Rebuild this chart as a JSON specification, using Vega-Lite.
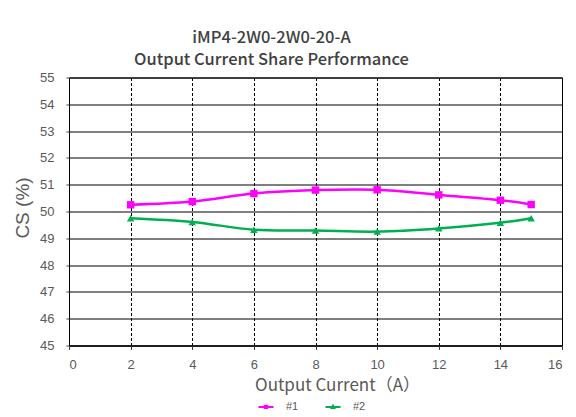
{
  "$schema": "https://vega.github.io/schema/vega-lite/v6.json",
  "width": 493,
  "height": 268,
  "autosize": {"type": "none"},
  "padding": {"left": 69, "top": 77.5, "right": 14, "bottom": 71},
  "background": "white",
  "title": {
    "text": ["iMP4-2W0-2W0-20-A", "Output Current Share Performance"],
    "font": "Noto Sans CJK JP",
    "fontSize": 16.5,
    "fontWeight": 500,
    "color": "#404040",
    "lineHeight": 22,
    "anchor": "middle",
    "frame": "group",
    "dx": -44,
    "offset": 3
  },
  "data": {
    "values": [
      {"current": 2, "cs": 50.25, "series": "#1"},
      {"current": 4, "cs": 50.37, "series": "#1"},
      {"current": 6, "cs": 50.67, "series": "#1"},
      {"current": 8, "cs": 50.8, "series": "#1"},
      {"current": 10, "cs": 50.81, "series": "#1"},
      {"current": 12, "cs": 50.62, "series": "#1"},
      {"current": 14, "cs": 50.42, "series": "#1"},
      {"current": 15, "cs": 50.26, "series": "#1"},
      {"current": 2, "cs": 49.75, "series": "#2"},
      {"current": 4, "cs": 49.61, "series": "#2"},
      {"current": 6, "cs": 49.32, "series": "#2"},
      {"current": 8, "cs": 49.29, "series": "#2"},
      {"current": 10, "cs": 49.25, "series": "#2"},
      {"current": 12, "cs": 49.37, "series": "#2"},
      {"current": 14, "cs": 49.58, "series": "#2"},
      {"current": 15, "cs": 49.75, "series": "#2"}
    ]
  },
  "encoding": {
    "x": {
      "field": "current",
      "type": "quantitative",
      "scale": {"domain": [0, 16], "nice": false, "zero": false},
      "axis": {
        "title": "Output Current（A）",
        "titleX": 268,
        "values": [0, 2, 4, 6, 8, 10, 12, 14, 16],
        "grid": true,
        "gridColor": "#000000",
        "gridDash": [3, 2],
        "gridWidth": 1,
        "domainColor": "#000000",
        "tickColor": "#404040",
        "tickSize": 4,
        "labelFont": "Liberation Sans",
        "labelFontSize": 13,
        "labelColor": "#595959",
        "labelPadding": 9,
        "titleFont": "Noto Sans CJK JP",
        "titleFontSize": 17,
        "titleFontWeight": "normal",
        "titleColor": "#595959",
        "titlePadding": 6
      }
    },
    "y": {
      "field": "cs",
      "type": "quantitative",
      "scale": {"domain": [45, 55], "nice": false, "zero": false},
      "axis": {
        "title": "CS (%)",
        "values": [45, 46, 47, 48, 49, 50, 51, 52, 53, 54, 55],
        "grid": true,
        "gridColor": "#000000",
        "gridWidth": 1,
        "domain": false,
        "tickColor": "#404040",
        "tickSize": 3,
        "labelFont": "Liberation Sans",
        "labelFontSize": 13,
        "labelColor": "#595959",
        "labelPadding": 12,
        "titleFont": "Liberation Sans",
        "titleFontSize": 19,
        "titleFontWeight": "normal",
        "titleColor": "#595959",
        "titlePadding": 7,
        "titleY": 130
      }
    },
    "color": {
      "field": "series",
      "type": "nominal",
      "scale": {"domain": ["#1", "#2"], "range": ["#FF00FF", "#00B050"]},
      "legend": {
        "title": null,
        "orient": "none",
        "legendX": 181,
        "legendY": 313,
        "direction": "horizontal",
        "labelFont": "Liberation Sans",
        "labelFontSize": 11,
        "labelColor": "#595959",
        "symbolSize": 900,
        "symbolStrokeWidth": 2,
        "columnPadding": 18,
        "labelOffset": 4,
        "symbolType": "M-1,0H1",
        "encode": {
          "symbols": {
            "update": {
              "shape": {"signal": "datum.value == '#1' ? 'M-0.5,0H0.5M-0.08,-0.08H0.08V0.08H-0.08Z' : 'M-0.5,0H0.5M0,-0.09L0.08,0.06H-0.08Z'"},
              "fill": {"signal": "datum.value == '#1' ? '#FF00FF' : '#00B050'"},
              "stroke": {"signal": "datum.value == '#1' ? '#FF00FF' : '#00B050'"}
            }
          }
        }
      }
    }
  },
  "layer": [
    {
      "mark": {"type": "line", "interpolate": "cardinal", "strokeWidth": 2.5}
    },
    {
      "mark": {"type": "point", "filled": true, "opacity": 1, "size": 55},
      "encoding": {
        "shape": {"condition": {"test": "datum.series == '#1'", "value": "square"}, "value": "triangle-up"}
      }
    }
  ],
  "config": {
    "view": {"stroke": "#000000", "strokeWidth": 1}
  }
}
